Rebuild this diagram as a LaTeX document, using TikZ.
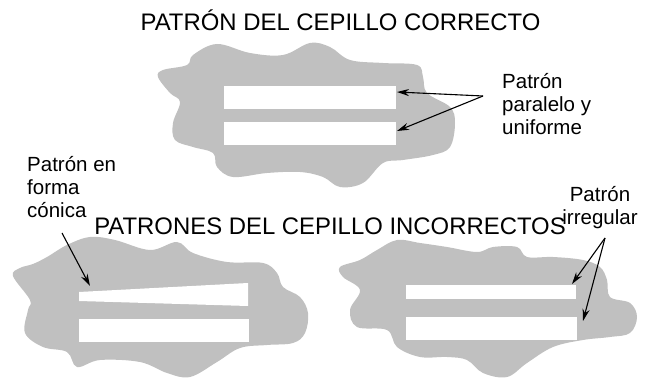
\documentclass[tikz,border=0pt]{standalone}
\usepackage{fontspec}
\setmainfont{Liberation Sans}
\usetikzlibrary{arrows.meta}
\definecolor{blobgray}{RGB}{192,192,192}
\tikzset{
  blob/.style={fill=blobgray, draw=none},
  stripe/.style={fill=white, draw=none},
  pointer/.style={draw=black, line width=1.1pt, -{Stealth[length=12pt,width=7pt]}},
  title/.style={font=\fontsize{23.9}{28}\selectfont, inner sep=0pt},
  label/.style={font=\fontsize{20.5}{23}\selectfont, inner sep=0pt, align=left},
}
\begin{document}
\begin{tikzpicture}[x=1pt,y=-1pt]
\useasboundingbox (0,0) rectangle (648,379);
% top blob
\fill[blob] plot[smooth cycle, tension=0.6] coordinates {
 (193,55) (217,44) (250,53) (283,55) (310,43) (330,47) (350,60) (383,63) (417,65)
 (423,77) (427,93) (450,107) (455,123) (450,147) (433,155) (403,160) (383,163)
 (363,183) (340,187) (323,177) (300,172) (267,173) (233,177) (217,167) (213,153)
 (193,147) (175,140) (173,123) (180,102) (170,93) (158,77) (163,70) (187,65)};
% bottom left blob
\fill[blob] plot[smooth cycle, tension=0.6] coordinates {
 (47,257) (67,245) (90,237) (115,240) (150,250) (177,242) (193,253) (227,262)
 (263,263) (277,273) (283,287) (300,297) (308,313) (305,333) (293,343) (267,345)
 (240,348) (217,362) (190,377) (167,373) (140,362) (100,360) (77,367) (67,352)
 (43,347) (25,333) (28,310) (30,300) (13,276) (20,268) (33,264)};
% bottom right blob
\fill[blob] plot[smooth cycle, tension=0.6] coordinates {
 (360,260) (377,250) (397,240) (420,243) (447,247) (477,252) (493,247) (517,247)
 (527,257) (553,257) (583,260) (600,267) (607,280) (610,297) (630,303) (637,317)
 (630,333) (610,337) (583,340) (553,347) (527,363) (507,377) (483,373) (467,360)
 (447,357) (420,357) (397,347) (387,330) (357,327) (350,310) (360,290) (343,277)
 (340,267)};
% stripes
\path[stripe] (224,86) rectangle (396,109);
\path[stripe] (224,122) rectangle (396,145);
\path[stripe] (79,292) -- (248,283) -- (248,306) -- (79,301) -- cycle;
\path[stripe] (79,319) rectangle (249,342);
\path[stripe] (406,285) rectangle (576,299);
\path[stripe] (406,317) rectangle (577,340);
% titles
\node[title, anchor=base] (t1) at (340.5,31) {PATRÓN DEL CEPILLO CORRECTO};
\node[title, anchor=base] (t2) at (330,235) {PATRONES DEL CEPILLO INCORRECTOS};
% labels (base anchor = baseline of the last line)
\node[label, anchor=base west] (l1) at (502,135) {Patrón\\paralelo y\\uniforme};
\node[label, anchor=base west] (l2) at (27,218) {Patrón en\\forma\\cónica};
\node[label, anchor=base, align=center] (l3) at (600,225) {Patrón\\irregular};
% arrow ends
\coordinate (a1s) at (483,96);
\coordinate (a1e) at (397,92);
\coordinate (a2e) at (397,131);
\coordinate (b1s) at (62,233);
\coordinate (b1e) at (90,286);
\coordinate (c1s) at (605,238);
\coordinate (c1e) at (572,284);
\coordinate (c2e) at (583,321);
\draw[pointer] (a1s) -- (a1e);
\draw[pointer] (a1s) -- (a2e);
\draw[pointer] (b1s) -- (b1e);
\draw[pointer] (c1s) -- (c1e);
\draw[pointer] (c1s) -- (c2e);
\end{tikzpicture}
\end{document}
